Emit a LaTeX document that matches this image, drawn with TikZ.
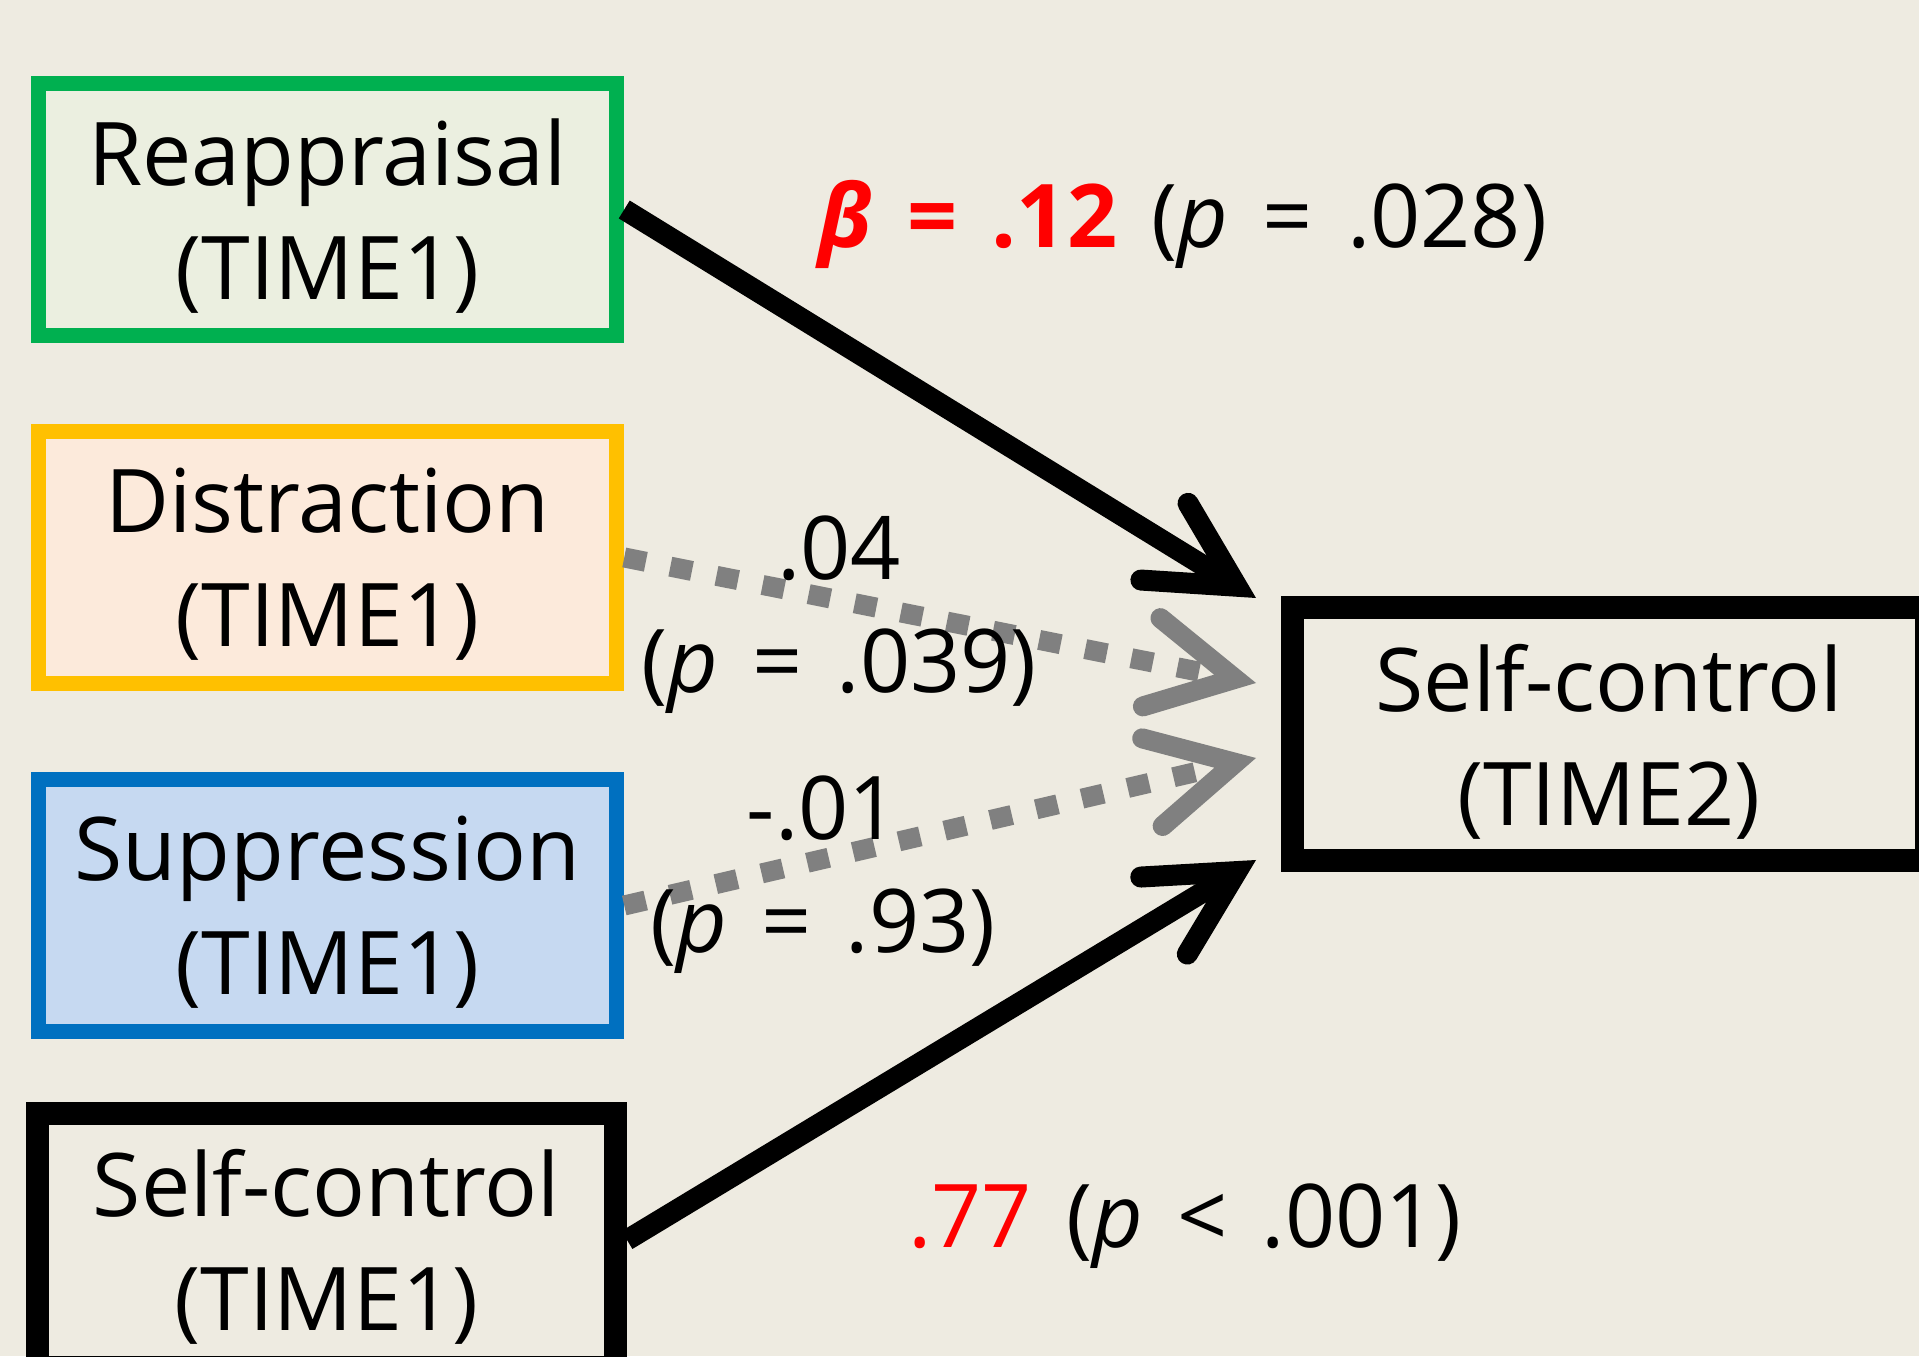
\documentclass[tikz,border=0pt]{standalone}
\usepackage{fontspec}
\setmainfont[WordSpace=1.5]{Open Sans}
\usetikzlibrary{arrows.meta}
\definecolor{bgcol}{HTML}{EEEBE1}
\definecolor{reapfill}{HTML}{EBEFE0}
\definecolor{reapline}{HTML}{00B050}
\definecolor{distfill}{HTML}{FCEADB}
\definecolor{distline}{HTML}{FFC000}
\definecolor{suppfill}{HTML}{C6D9F1}
\definecolor{suppline}{HTML}{0070C0}
\definecolor{pathgray}{HTML}{808080}
\definecolor{betared}{HTML}{FF0000}

\begin{document}
\begin{tikzpicture}[x=1cm,y=1cm]
\tikzset{
  varbox/.style={rectangle,align=center,inner sep=0pt,text depth=0pt,line join=miter,
    font=\fontsize{25pt}{32.4pt}\selectfont,text=black},
  timeone/.style={varbox,minimum width=5.78cm,minimum height=2.52cm,line width=0.155cm},
  selfbox/.style={varbox,draw=black,fill=bgcol,line width=0.23cm},
  pathlabel/.style={align=center,inner sep=0pt,anchor=base,font=\fontsize{25pt}{32.4pt}\selectfont},
  pathhead/.style={-{Straight Barb[length=0.85cm,width=0.9cm,line cap=round,line join=miter]}},
  sigpath/.style={draw=black,line width=0.21cm,pathhead},
  nspath/.style={draw=pathgray,line width=0.2cm,dash pattern=on 0.22cm off 0.25cm,pathhead}
}
\useasboundingbox[fill=bgcol] (0,0) rectangle (19.19,13.56);
\clip (0,0) rectangle (19.19,13.56);
% predictors at time 1
\node[timeone,draw=reapline,fill=reapfill] (n_reap) at (3.275,11.465) {Reappraisal\\(TIME1)};
\node[timeone,draw=distline,fill=distfill] (n_dist) at (3.275,7.985) {Distraction\\(TIME1)};
\node[timeone,draw=suppline,fill=suppfill] (n_supp) at (3.275,4.505) {Suppression\\(TIME1)};
\node[selfbox,minimum width=5.78cm,minimum height=2.54cm] (n_sc1) at (3.265,1.16) {Self-control\\(TIME1)};
% outcome at time 2
\node[selfbox,minimum width=6.34cm,minimum height=2.53cm] (n_sc2) at (16.09,6.215) {Self-control\\(TIME2)};
\coordinate (t_reap) at (12.56,7.58);
\coordinate (t_dist) at (12.56,6.73);
\coordinate (t_supp) at (12.56,5.98);
\coordinate (t_sc1) at (12.56,4.96);
\draw[sigpath] (n_reap.east) -- (t_reap);
\draw[nspath] (n_dist.east) -- (t_dist);
\draw[nspath] (n_supp.east) -- (t_supp);
\draw[sigpath] (n_sc1.east) -- (t_sc1);
% coefficients
\node[pathlabel] (n_b_reap) at (11.83,11.08) {\textcolor{betared}{\textbf{\textit{β}} \textbf{= .12}} (\textit{p} = .028)};
\node[pathlabel] (n_b_dist) at (8.39,6.63) {.04\\(\textit{p} = .039)};
\node[pathlabel] (n_b_supp) at (8.23,4.03) {-.01\\(\textit{p} = .93)};
\node[pathlabel] (n_b_sc1) at (11.85,1.09) {\textcolor{betared}{.77} (\textit{p} < .001)};
\end{tikzpicture}
\end{document}
